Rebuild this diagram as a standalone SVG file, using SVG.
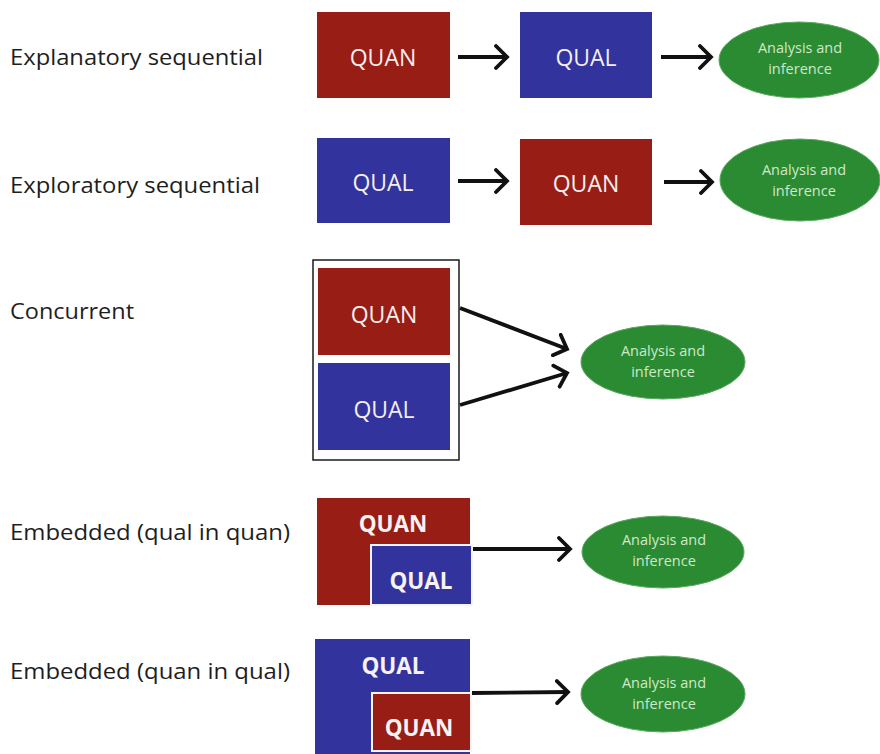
<svg xmlns="http://www.w3.org/2000/svg" width="880" height="754" viewBox="0 0 880 754">
  <defs>
    <marker id="chev" viewBox="0 0 16 26" refX="13" refY="13" markerWidth="16" markerHeight="26" markerUnits="userSpaceOnUse" orient="auto">
      <path d="M2,2 L13,13 L2,24" fill="none" stroke="#111" stroke-width="3.8" stroke-linecap="round" stroke-linejoin="miter"/>
    </marker>
    <style>
      .label { font-family: "Open Sans", "Liberation Sans", sans-serif; font-size: 22px; fill: #1e1e1e; }
      .quan { fill: #981d15; }
      .qual { fill: #32339d; }
      .box-text { font-family: "Open Sans", "Liberation Sans", sans-serif; font-size: 23px; fill: #f4eeee; text-anchor: middle; }
      .box-bold { font-family: "Open Sans", "Liberation Sans", sans-serif; font-size: 22.5px; font-weight: bold; fill: #f6f2f2; text-anchor: middle; }
      .inner { stroke: #f4f4f4; stroke-width: 2; }
      .oval { fill: #2b8b33; stroke: #5aa85e; stroke-width: 1; }
      .oval-text { font-family: "Open Sans", "Liberation Sans", sans-serif; font-size: 14.5px; fill: #cfe8c8; text-anchor: middle; }
      .frame { fill: #ffffff; stroke: #1a1a1a; stroke-width: 1.5; }
      .conn { fill: none; stroke: #111; stroke-width: 3.8; marker-end: url(#chev); }
    </style>
  </defs>
  <rect width="880" height="754" fill="#ffffff"/>

  <!-- row labels -->
  <g id="labels">
    <text class="label" x="10" y="65" textLength="253" lengthAdjust="spacingAndGlyphs">Explanatory sequential</text>
    <text class="label" x="10" y="193" textLength="250" lengthAdjust="spacingAndGlyphs">Exploratory sequential</text>
    <text class="label" x="10" y="319" textLength="124" lengthAdjust="spacingAndGlyphs">Concurrent</text>
    <text class="label" x="10" y="540" textLength="280" lengthAdjust="spacingAndGlyphs">Embedded (qual in quan)</text>
    <text class="label" x="10" y="679" textLength="280" lengthAdjust="spacingAndGlyphs">Embedded (quan in qual)</text>
  </g>

  <!-- explanatory sequential -->
  <g id="r1-quan">
    <rect class="quan" x="317" y="12" width="133" height="86"/>
    <text class="box-text" x="383" y="66">QUAN</text>
  </g>
  <g id="r1-qual">
    <rect class="qual" x="520" y="12" width="132" height="86"/>
    <text class="box-text" x="586" y="66">QUAL</text>
  </g>
  <g id="r1-result">
    <ellipse class="oval" cx="799" cy="60" rx="80" ry="38"/>
    <text class="oval-text" x="800" y="53">Analysis and</text>
    <text class="oval-text" x="800" y="74">inference</text>
  </g>

  <!-- exploratory sequential -->
  <g id="r2-qual">
    <rect class="qual" x="317" y="138" width="133" height="85"/>
    <text class="box-text" x="383" y="191">QUAL</text>
  </g>
  <g id="r2-quan">
    <rect class="quan" x="520" y="139" width="132" height="86"/>
    <text class="box-text" x="586" y="192">QUAN</text>
  </g>
  <g id="r2-result">
    <ellipse class="oval" cx="800" cy="180" rx="80" ry="41"/>
    <text class="oval-text" x="804" y="175">Analysis and</text>
    <text class="oval-text" x="804" y="196">inference</text>
  </g>

  <!-- concurrent -->
  <g id="r3-pair">
    <rect class="frame" x="313" y="260" width="146" height="200"/>
    <g id="r3-quan">
      <rect class="quan" x="318" y="268" width="132" height="87"/>
      <text class="box-text" x="384" y="323">QUAN</text>
    </g>
    <g id="r3-qual">
      <rect class="qual" x="318" y="363" width="132" height="87"/>
      <text class="box-text" x="384" y="418">QUAL</text>
    </g>
  </g>
  <g id="r3-result">
    <ellipse class="oval" cx="663" cy="362" rx="82" ry="37"/>
    <text class="oval-text" x="663" y="356">Analysis and</text>
    <text class="oval-text" x="663" y="377">inference</text>
  </g>

  <!-- embedded: qual in quan -->
  <g id="r4-quan">
    <rect class="quan" x="317" y="498" width="153" height="107"/>
    <text class="box-bold" x="393" y="532">QUAN</text>
  </g>
  <g id="r4-qual">
    <rect class="qual inner" x="371" y="545" width="101" height="60"/>
    <text class="box-bold" x="421" y="589">QUAL</text>
  </g>
  <g id="r4-result">
    <ellipse class="oval" cx="663" cy="552" rx="81" ry="36"/>
    <text class="oval-text" x="664" y="545">Analysis and</text>
    <text class="oval-text" x="664" y="566">inference</text>
  </g>

  <!-- embedded: quan in qual -->
  <g id="r5-qual">
    <rect class="qual" x="315" y="639" width="155" height="115"/>
    <text class="box-bold" x="393" y="674">QUAL</text>
  </g>
  <g id="r5-quan">
    <rect class="quan inner" x="372" y="693" width="99" height="58"/>
    <text class="box-bold" x="419" y="736">QUAN</text>
  </g>
  <g id="r5-result">
    <ellipse class="oval" cx="663" cy="694" rx="82" ry="38"/>
    <text class="oval-text" x="664" y="688">Analysis and</text>
    <text class="oval-text" x="664" y="709">inference</text>
  </g>

  <!-- connectors -->
  <g id="connectors">
    <line class="conn" x1="458" y1="57" x2="507" y2="57"/>
    <line class="conn" x1="661" y1="57" x2="711" y2="57"/>
    <line class="conn" x1="458" y1="181" x2="507" y2="181"/>
    <line class="conn" x1="664" y1="182" x2="712" y2="182"/>
    <line class="conn" x1="460" y1="308" x2="567" y2="349"/>
    <line class="conn" x1="460" y1="405" x2="567" y2="373"/>
    <line class="conn" x1="473" y1="549" x2="570" y2="549"/>
    <line class="conn" x1="472" y1="693" x2="568" y2="692"/>
  </g>
</svg>
